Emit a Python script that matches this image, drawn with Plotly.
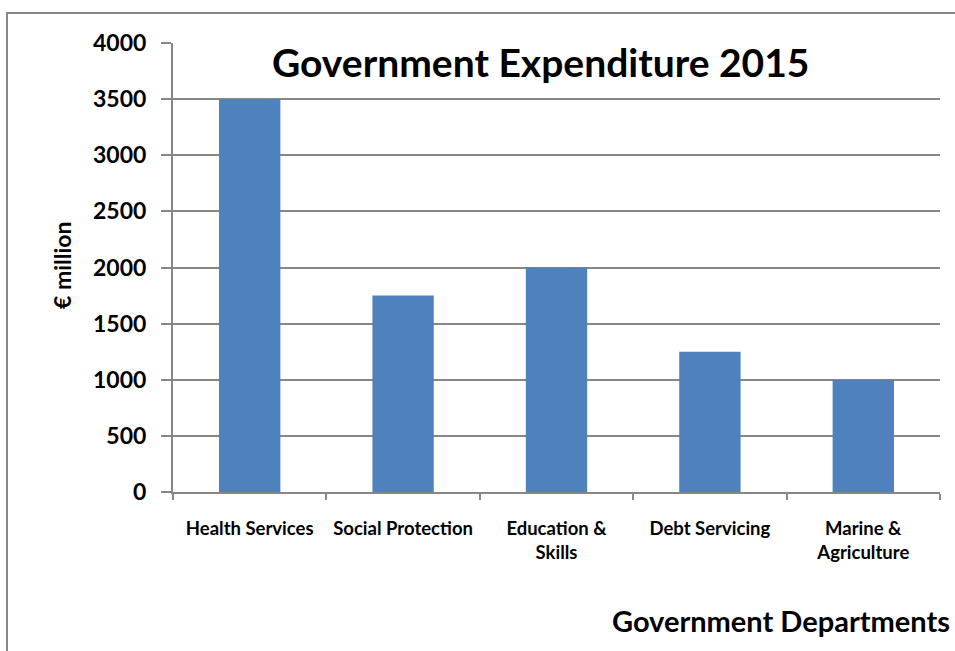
import plotly.graph_objects as go

categories = ["Health Services", "Social Protection", "Education &<br>Skills", "Debt Servicing", "Marine &<br>Agriculture"]
values = [3500, 1750, 2000, 1250, 1000]
y_ticks = [0, 500, 1000, 1500, 2000, 2500, 3000, 3500, 4000]

FONT = "Lato"
GRAY = "#878787"

fig = go.Figure(go.Bar(x=categories, y=values, marker=dict(color="#4F81BD", line=dict(width=0))))

fig.update_layout(
    width=955, height=651,
    margin=dict(l=173, r=15, t=43, b=159),
    paper_bgcolor="white", plot_bgcolor="white",
    bargap=0.6,
    showlegend=False,
    font=dict(family=FONT, color="black"),
    xaxis=dict(
        showline=True, linecolor=GRAY, linewidth=2,
        ticks="outside", tickson="boundaries", ticklen=6, tickcolor=GRAY, tickwidth=2,
        tickfont=dict(family=FONT, size=18.5, color="black", weight="bold"),
        tickangle=0, automargin=False,
        ticklabelstandoff=19,
        showgrid=False,
    ),
    yaxis=dict(
        range=[0, 4000], tickvals=y_ticks,
        showline=True, linecolor=GRAY, linewidth=2,
        ticks="outside", ticklen=10, tickcolor=GRAY, tickwidth=2,
        showgrid=True, gridcolor=GRAY, gridwidth=2,
        tickfont=dict(family=FONT, size=23, color="black", weight="bold"),
        ticklabelstandoff=10, automargin=False,
        zeroline=False,
    ),
    shapes=[dict(type="rect", xref="paper", yref="paper",
                 x0=(7 - 173) / 767, x1=1.2, y0=-0.6, y1=(492 - 13) / 449,
                 line=dict(color=GRAY, width=2), layer="below")],
    annotations=[
        dict(text="<b>Government Expenditure 2015</b>", xref="paper", yref="paper",
             x=(540 - 173) / 767, y=(492 - 62) / 449, xanchor="center", yanchor="middle",
             showarrow=False, font=dict(family=FONT, size=39, color="black")),
        dict(text="<b>€ million</b>", xref="paper", yref="paper",
             x=(62 - 173) / 767, y=(492 - 265) / 449, xanchor="center", yanchor="middle",
             textangle=-90, showarrow=False, font=dict(family=FONT, size=23, color="black")),
        dict(text="<b>Government Departments</b>", xref="paper", yref="paper",
             x=(610 - 173) / 767, y=(492 - 620) / 449, xanchor="left", yanchor="middle",
             showarrow=False, font=dict(family=FONT, size=29, color="black")),
    ],
)

fig.write_html("out.html")
